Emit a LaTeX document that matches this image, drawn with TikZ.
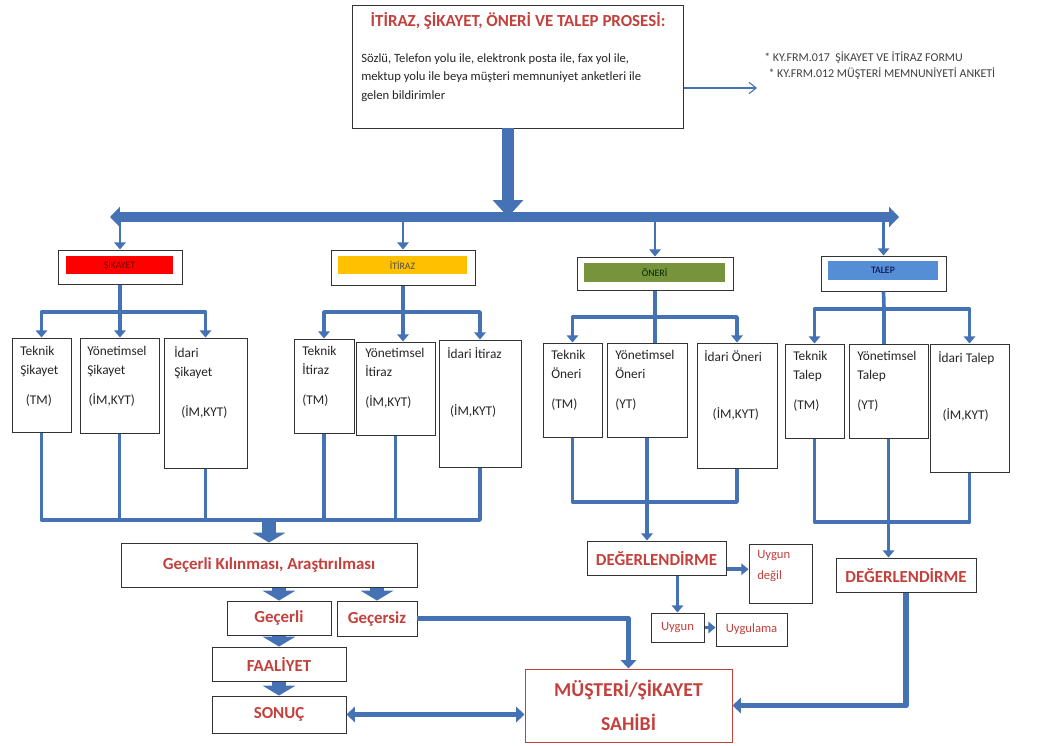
\documentclass[tikz,border=0pt]{standalone}
\usepackage{fontspec}
\setmainfont{Carlito}
\usetikzlibrary{arrows.meta,fit,calc,positioning}
\definecolor{lineblue}{RGB}{68,114,180}
\definecolor{txtred}{RGB}{196,64,60}
\definecolor{sikred}{RGB}{255,0,0}
\definecolor{itrorange}{RGB}{255,192,0}
\definecolor{onergreen}{RGB}{119,147,60}
\definecolor{talepblue}{RGB}{85,142,213}

\begin{document}
\begin{tikzpicture}[x=0.025cm, y=-0.025cm,
  box/.style = {draw=black!80, line width=0.7pt, fill=white, inner sep=0pt},
  catfill/.style = {inner sep=0pt},
  cattxt/.style = {inner sep=0pt, font=\fontsize{7}{8}\selectfont},
  subtxt/.style = {anchor=north west, align=left, inner sep=0pt, font=\fontsize{9.5}{13.5}\selectfont, text=black!85},
  redtxt/.style = {text=txtred, font=\fontsize{12}{14}\selectfont\bfseries},
  smalltxt/.style = {text=txtred, font=\fontsize{9}{15}\selectfont},
  conn/.style = {draw=lineblue, line width=2.6pt, line join=round},
  fat/.style = {draw=lineblue, line width=4pt, line join=round},
  toarrow/.style = {-{Triangle[width=8pt,length=5pt]}},
  bigtoarrow/.style = {-{Triangle[width=11pt,length=6pt]}},
  blockarr/.style = {draw=lineblue, line width=10pt, -{Triangle[width=23pt,length=7pt]}}]
\path[fill=white, use as bounding box] (0,0) rectangle (1037,745);

\node[box, fit={(352,5)(683,128)}] (proc) {};
\node[redtxt] (proctitle) at (518,21) {İTİRAZ, ŞİKAYET, ÖNERİ VE TALEP PROSESİ:};
\node[subtxt, font=\fontsize{9}{13.2}\selectfont] (procbody) at (361,53) {Sözlü, Telefon yolu ile, elektronk posta ile, fax yol ile,\\mektup yolu ile beya müşteri memnuniyet anketleri ile\\gelen bildirimler};
\node[subtxt, font=\fontsize{8.5}{12}\selectfont, text=black!75] (forms) at (764,51) {* KY.FRM.017\ \ ŞİKAYET VE İTİRAZ FORMU\\\hspace{3pt}* KY.FRM.012 MÜŞTERİ MEMNUNİYETİ ANKETİ};
\coordinate (formtip) at (757,88);
\draw[draw=lineblue, line width=0.8pt, -{Straight Barb[length=5pt,width=8pt]}] (proc.east |- formtip) -- (formtip);

\coordinate (mainbar) at (508,217);
\coordinate (barL) at (110,217);
\coordinate (barR) at (899,217);
\draw[draw=lineblue, line width=7pt, {Triangle[width=14pt,length=7pt]}-{Triangle[width=14pt,length=7pt]}] (barL) -- (barR);
\draw[draw=lineblue, line width=9pt, -{Triangle[width=21pt,length=12pt]}] (proc.south -| mainbar) -- (mainbar);

\node[box, fit={(58,250)(182,284)}] (sik) {};
\node[catfill, fill=sikred, fit={(66,256)(173,274)}, label={[cattxt, text=red!45!black]center:ŞİKAYET}] (sikfill) {};
\node[box, fit={(331,250)(475,285)}] (itr) {};
\node[catfill, fill=itrorange, fit={(338,256)(467,274)}, label={[cattxt, text=black!70]center:İTİRAZ}] (itrfill) {};
\node[box, fit={(577,257)(733,290)}] (oner) {};
\node[catfill, fill=onergreen, fit={(584,263)(725,282)}, label={[cattxt, text=green!15!black]center:ÖNERİ}] (onerfill) {};
\node[box, fit={(821,256)(946,291)}] (tal) {};
\node[catfill, fill=talepblue, fit={(828,261)(938,280)}, label={[cattxt, text=blue!25!black]center:TALEP}] (talfill) {};

\draw[conn, line width=2pt, toarrow] (sik.north |- mainbar) -- (sik.north);
\draw[conn, line width=2pt, toarrow] (itr.north |- mainbar) -- (itr.north);
\draw[conn, line width=2pt, toarrow] (oner.north |- mainbar) -- (oner.north);
\draw[conn, line width=2pt, toarrow] (tal.north |- mainbar) -- (tal.north);

\node[box, fit={(12,338)(71,432)}] (tsik) {};
\node[subtxt] (tsik-t) at (20,346) {Teknik\\Şikayet\\[8pt]\hspace{4pt}(TM)};
\node[box, fit={(80,338)(159,433)}] (ysik) {};
\node[subtxt] (ysik-t) at (87,346) {Yönetimsel\\Şikayet\\[8pt]\hspace{1pt}(İM,KYT)};
\node[box, fit={(164,338)(247,468)}] (isik) {};
\node[subtxt] (isik-t) at (174,346) {İdari\\Şikayet\\[15pt]\hspace{5pt}(İM,KYT)};

\node[box, fit={(294,339)(354,433)}] (titr) {};
\node[subtxt] (titr-t) at (302,346) {Teknik\\İtiraz\\[8pt](TM)};
\node[box, fit={(356,342)(435,435)}] (yitr) {};
\node[subtxt] (yitr-t) at (365,348) {Yönetimsel\\İtiraz\\[8pt](İM,KYT)};
\node[box, fit={(439,340)(521,467)}] (iitr) {};
\node[subtxt] (iitr-t) at (447,347) {İdari İtiraz\\[27pt]\hspace{2pt}(İM,KYT)};

\node[box, fit={(543,343)(602,437)}] (toner) {};
\node[subtxt] (toner-t) at (551,350) {Teknik\\Öneri\\[8pt](TM)};
\node[box, fit={(607,343)(687,437)}] (yoner) {};
\node[subtxt] (yoner-t) at (615,350) {Yönetimsel\\Öneri\\[8pt](YT)};
\node[box, fit={(697,343)(777,468)}] (ioner) {};
\node[subtxt] (ioner-t) at (704,350) {İdari Öneri\\[27pt]\hspace{6pt}(İM,KYT)};

\node[box, fit={(785,344)(844,438)}] (ttal) {};
\node[subtxt] (ttal-t) at (793,351) {Teknik\\Talep\\[8pt](TM)};
\node[box, fit={(849,344)(928,438)}] (ytal) {};
\node[subtxt] (ytal-t) at (857,351) {Yönetimsel\\Talep\\[8pt](YT)};
\node[box, fit={(930,344)(1009,472)}] (ital) {};
\node[subtxt] (ital-t) at (938,351) {İdari Talep\\[27pt]\hspace{3pt}(İM,KYT)};

\coordinate (sikbr) at (120,312);
\coordinate (itrbr) at (403,312);
\coordinate (onerbr) at (655,317);
\coordinate (talbr) at (884,309);
\draw[conn] (sik.south) -- (sikbr);
\draw[conn, toarrow] (sikbr) -| (tsik.north);
\draw[conn, toarrow] (sikbr) -| (isik.north);
\draw[conn, toarrow] (sikbr) -- (sikbr |- ysik.north);
\draw[conn] (itr.south) -- (itrbr);
\draw[conn, toarrow] (itrbr) -| (titr.north);
\draw[conn, toarrow] (itrbr) -| (iitr.north);
\draw[conn, toarrow] (itrbr) -- (itrbr |- yitr.north);
\draw[conn] (oner.south) -- (onerbr);
\draw[conn, toarrow] (onerbr) -| (toner.north);
\draw[conn, toarrow] (onerbr) -| (ioner.north);
\draw[conn] (onerbr) -- (onerbr |- yoner.north);
\draw[conn] (tal.south) -- (talbr);
\draw[conn, toarrow] (talbr) -| (ttal.north);
\draw[conn, toarrow] (talbr) -| (ital.north);
\draw[conn] (talbr) -- (talbr |- ytal.north);

\node[box, fit={(121,543)(417,587)}, label={[redtxt]center:Geçerli Kılınması, Araştırılması}] (gecer) {};
\node[box, fit={(227,601)(331,635)}, label={[redtxt]center:Geçerli}] (gcrl) {};
\node[box, fit={(337,601)(417,636)}, label={[redtxt]center:Geçersiz}] (gcrs) {};
\node[box, fit={(212,647)(346,681)}, label={[redtxt]center:FAALİYET}] (faal) {};
\node[box, fit={(212,696)(346,733)}, label={[redtxt]center:SONUÇ}] (sonuc) {};
\node[box, draw=txtred, fit={(525,669)(732,742)}, label={[redtxt, font=\fontsize{14}{24}\selectfont\bfseries, align=center]center:{MÜŞTERİ/ŞİKAYET\\SAHİBİ}}] (musteri) {};

\node[box, fit={(587,541)(726,575)}, label={[redtxt]center:DEĞERLENDİRME}] (deg1) {};
\node[box, fit={(749,544)(812,603)}] (uyd) {};
\node[subtxt, smalltxt] (uyd-t) at (757,550) {Uygun\\değil};
\node[box, fit={(651,613)(704,642)}, label={[smalltxt]center:Uygun}] (uyg) {};
\node[box, fit={(716,613)(787,646)}, label={[smalltxt]center:Uygulama}] (uyl) {};
\node[box, fit={(836,558)(976,592)}, label={[redtxt]center:DEĞERLENDİRME}] (deg2) {};

\coordinate (lowbar) at (0,520);
\coordinate (onerlow) at (0,502);
\coordinate (tallow) at (0,522);
\draw[conn] (tsik.south) |- (iitr.south |- lowbar) -- (iitr.south);
\draw[conn] (ysik.south) -- (ysik.south |- lowbar);
\draw[conn] (isik.south) -- (isik.south |- lowbar);
\draw[conn] (titr.south) -- (titr.south |- lowbar);
\draw[conn] (yitr.south) -- (yitr.south |- lowbar);
\draw[conn] (toner.south) |- (ioner.south |- onerlow) -- (ioner.south);
\draw[conn, toarrow] (yoner.south) -- (yoner.south |- deg1.north);
\draw[conn] (ttal.south) |- (ital.south |- tallow) -- (ital.south);
\draw[conn, toarrow] (ytal.south) -- (ytal.south |- deg2.north);

\draw[blockarr] (gecer.north |- lowbar) -- (gecer.north);
\draw[blockarr] (gcrl.north |- gecer.south) -- (gcrl.north);
\draw[blockarr] (gcrs.north |- gecer.south) -- (gcrs.north);
\draw[blockarr] (faal.north |- gcrl.south) -- (faal.north);
\draw[blockarr] (sonuc.north |- faal.south) -- (sonuc.north);

\draw[fat, bigtoarrow] (gcrs.east) -| (musteri.north);
\draw[fat, bigtoarrow] (deg2.south) |- (musteri.east);
\draw[fat, {Triangle[width=11pt,length=6pt]}-{Triangle[width=11pt,length=6pt]}] (sonuc.east) -- (sonuc.east -| musteri.west);

\draw[conn, toarrow] ([yshift=-8pt]deg1.east) -- ([yshift=-8pt]deg1.east -| uyd.west);
\draw[conn, toarrow] (uyg.north |- deg1.south) -- (uyg.north);
\draw[conn, toarrow] (uyg.east) -- (uyg.east -| uyl.west);
\end{tikzpicture}
\end{document}
